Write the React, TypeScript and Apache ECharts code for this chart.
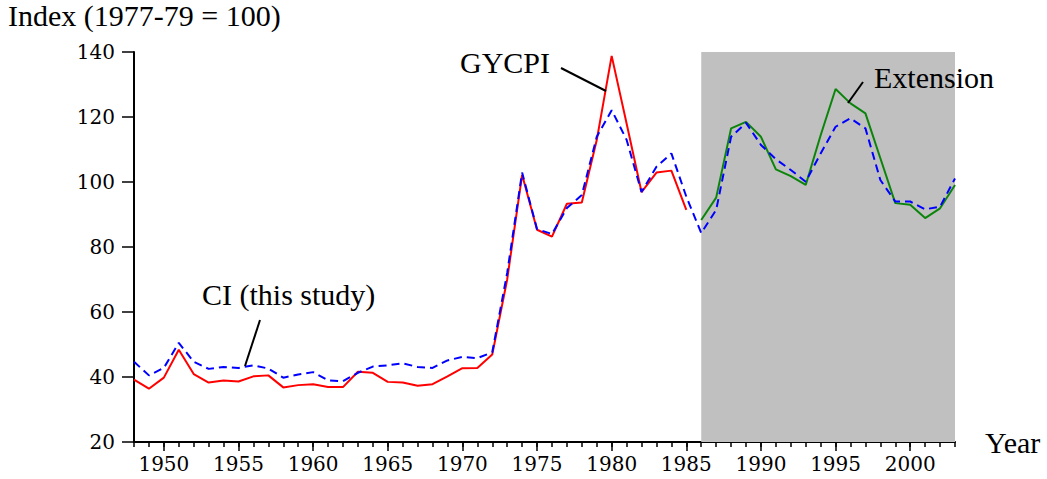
import React, { useEffect, useRef } from "react";
import * as echarts from "echarts";

const FIRST_YEAR = 1948;
const LAST_YEAR = 2003;
const EXT_START = 1986;

const majorYears = [1950, 1955, 1960, 1965, 1970, 1975, 1980, 1985, 1990, 1995, 2000];

// GYCPI (red), 1948-1985
const gycpi = [
  39.2, 36.4, 39.8, 48.4, 40.9, 38.3, 38.9, 38.6, 40.2, 40.5,
  36.8, 37.5, 37.8, 36.9, 36.9, 41.6, 41.3, 38.5, 38.3, 37.3,
  37.8, 40.2, 42.7, 42.8, 46.9, 70.0, 102.2, 85.3, 83.2, 93.3,
  93.7, 112.9, 138.8, 118.0, 96.9, 102.9, 103.5, 91.4,
];

// Extension (green), 1986-2003
const extension = [
  88.3, 95.2, 116.5, 118.5, 113.9, 103.9, 101.8, 99.1, 114.4, 128.6,
  124.2, 121.1, 107.3, 93.5, 93.0, 88.9, 91.9, 99.1,
];

// CI this study (blue dashed), 1948-2003
const ci = [
  44.7, 40.5, 42.8, 50.5, 44.7, 42.5, 43.1, 42.8, 43.6, 42.6,
  39.8, 40.8, 41.5, 39.0, 38.7, 41.3, 43.2, 43.6, 44.2, 43.1,
  42.8, 45.1, 46.2, 45.8, 47.6, 72.0, 102.9, 85.5, 84.0, 92.0,
  96.0, 113.9, 122.1, 113.0, 96.9, 104.7, 108.8, 95.5, 84.3, 91.4,
  113.9, 118.2, 111.4, 107.0, 103.7, 100.1, 108.8, 117.0, 119.6, 116.5,
  100.6, 94.0, 94.0, 91.6, 92.4, 101.1,
];

const yTicks = { min: 20, max: 140, interval: 20 };

const SERIF = "Liberation Serif";
const TICKFONT = "'DejaVu Serif', 'Liberation Serif', serif";

function pairs(startYear: number, vals: number[]) {
  return vals.map((v, i) => [startYear + i, v]);
}

export default function App() {
  const ref = useRef<HTMLDivElement>(null);
  useEffect(() => {
    if (!ref.current) return;
    const chart = echarts.init(ref.current, undefined, { renderer: "svg" });
    const axisLineStyle = { color: "#000", width: 2 };
    const tickLineStyle = { color: "#000", width: 1.5 };
    const bigText = { fontFamily: SERIF, fontSize: 30, fill: "#000" };
    chart.setOption({
      animation: false,
      backgroundColor: "#ffffff",
      title: {
        text: "Index (1977-79 = 100)",
        left: 8,
        top: 0,
        padding: 0,
        textStyle: { fontFamily: SERIF, fontSize: 30, fontWeight: "normal", color: "#000" },
      },
      grid: { left: 134, right: 92, top: 52, bottom: 37, containLabel: false },
      xAxis: [
        {
          type: "value",
          min: FIRST_YEAR,
          max: LAST_YEAR,
          interval: 1,
          position: "bottom",
          axisLine: { show: true, onZero: false, lineStyle: axisLineStyle },
          axisTick: { show: true, length: 5, lineStyle: tickLineStyle },
          axisLabel: { show: false },
          splitLine: { show: false },
          name: "Year",
          nameLocation: "end",
          nameGap: 30,
          nameTextStyle: { fontFamily: SERIF, fontSize: 30, color: "#000" },
        },
        {
          type: "value",
          min: FIRST_YEAR,
          max: LAST_YEAR,
          position: "bottom",
          axisLine: { show: false, onZero: false },
          axisTick: { show: true, length: 9, customValues: majorYears, lineStyle: tickLineStyle },
          axisLabel: {
            show: true,
            customValues: majorYears,
            formatter: (v: number) => String(v),
            margin: 12,
            fontFamily: TICKFONT,
            fontSize: 20,
            color: "#000",
          },
          splitLine: { show: false },
        },
      ],
      yAxis: {
        type: "value",
        min: yTicks.min,
        max: yTicks.max,
        interval: yTicks.interval,
        axisLine: { show: true, onZero: false, lineStyle: axisLineStyle },
        axisTick: { show: true, length: 12, lineStyle: tickLineStyle },
        axisLabel: {
          margin: 19,
          formatter: (v: number) => String(v),
          fontFamily: TICKFONT,
          fontSize: 20,
          color: "#000",
        },
        splitLine: { show: false },
      },
      series: [
        {
          name: "GYCPI",
          type: "line",
          xAxisIndex: 0,
          data: pairs(FIRST_YEAR, gycpi),
          symbol: "none",
          lineStyle: { color: "#ff0000", width: 2 },
          z: 3,
        },
        {
          name: "Extension",
          type: "line",
          xAxisIndex: 0,
          data: pairs(EXT_START, extension),
          symbol: "none",
          lineStyle: { color: "#0c840c", width: 2 },
          z: 3,
        },
        {
          name: "CI (this study)",
          type: "line",
          xAxisIndex: 0,
          data: pairs(FIRST_YEAR, ci),
          symbol: "none",
          lineStyle: { color: "#0000ff", width: 2, type: [8, 5] },
          z: 4,
          markArea: {
            silent: true,
            itemStyle: { color: "#c0c0c0" },
            data: [[{ xAxis: EXT_START }, { xAxis: LAST_YEAR }]],
          },
        },
      ],
      graphic: [
        { type: "text", x: 460, y: 62, z: 100, style: { text: "GYCPI", ...bigText, align: "left", verticalAlign: "middle" } },
        { type: "line", z: 100, shape: { x1: 561, y1: 68, x2: 606, y2: 91 }, style: { stroke: "#000", lineWidth: 2 } },
        { type: "text", x: 202, y: 294, z: 100, style: { text: "CI (this study)", ...bigText, align: "left", verticalAlign: "middle" } },
        { type: "line", z: 100, shape: { x1: 260, y1: 320, x2: 245, y2: 366 }, style: { stroke: "#000", lineWidth: 2 } },
        { type: "text", x: 874, y: 77, z: 100, style: { text: "Extension", ...bigText, align: "left", verticalAlign: "middle" } },
        { type: "line", z: 100, shape: { x1: 863, y1: 82, x2: 848, y2: 103 }, style: { stroke: "#000", lineWidth: 2 } },
      ],
    });
    return () => chart.dispose();
  }, []);
  return (
    <div
      ref={ref}
      style={{ position: "fixed", left: 0, top: 0, width: 1047, height: 479, background: "#fff" }}
    />
  );
}
